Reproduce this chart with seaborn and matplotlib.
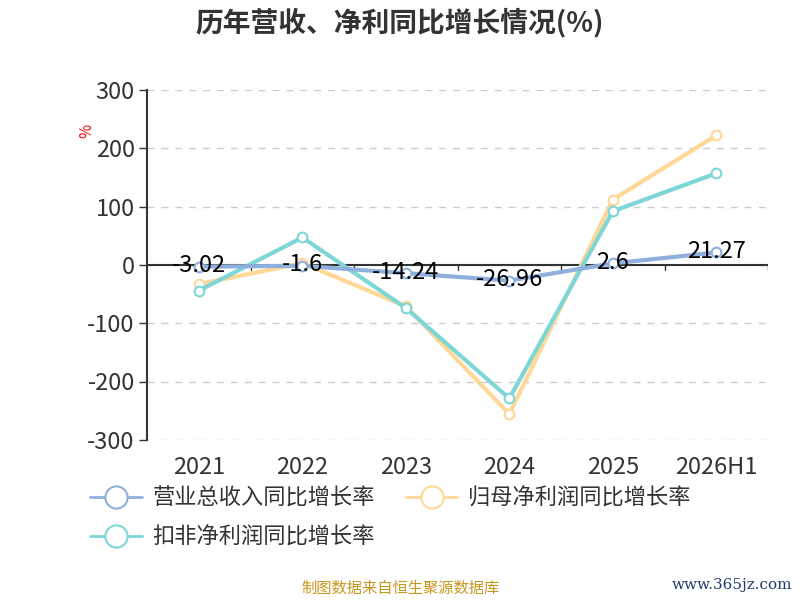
import pandas as pd
import matplotlib.pyplot as plt
import seaborn as sns

# -------------------------
# Data
# -------------------------
years = ["2021", "2022", "2023", "2024", "2025", "2026H1"]
revenue_yoy = [-3.02, -1.6, -14.24, -26.96, 2.6, 21.27]
parent_profit_yoy = [-33, 3, -71, -256, 112, 222]
deducted_profit_yoy = [-44, 47, -74, -229, 92, 157]

series_names = ["营业总收入同比增长率", "归母净利润同比增长率", "扣非净利润同比增长率"]
colors = ["#8fb0dd", "#ffd797", "#7fd6d6"]

df = pd.DataFrame({
    "year": years * 3,
    "value": revenue_yoy + parent_profit_yoy + deducted_profit_yoy,
    "series": [series_names[0]] * 6 + [series_names[1]] * 6 + [series_names[2]] * 6,
})
df["x"] = df["year"].map({y: i for i, y in enumerate(years)})

sns.set_theme(style="white")
plt.rcParams["font.family"] = ["Noto Sans CJK SC", "DejaVu Sans"]

fig = plt.figure(figsize=(8, 6), dpi=100)
ax = fig.add_axes([0.184, 0.267, 0.776, 0.583])

# draw revenue last so it sits on top like the reference
for name, color in zip([series_names[1], series_names[2], series_names[0]],
                       [colors[1], colors[2], colors[0]]):
    sub = df[df["series"] == name]
    sns.lineplot(data=sub, x="x", y="value", ax=ax, color=color, linewidth=3,
                 marker="o", markersize=7, markerfacecolor="white",
                 markeredgecolor=color, markeredgewidth=1.5, legend=False,
                 zorder=3 if name == series_names[0] else 2)

# data labels for revenue
for i, v in enumerate(revenue_yoy):
    ax.text(i, v + 2, f"{v:g}", ha="center", va="center", fontsize=17,
            color="black", zorder=5)

ax.set_xlim(-0.5, 5.5)
ax.set_ylim(-300, 300)
ax.set_yticks([-300, -200, -100, 0, 100, 200, 300])
ax.set_yticklabels(["-300", "-200", "-100", "0", "100", "200", "300"],
                   fontsize=17, color="#333333")
ax.yaxis.grid(True, linestyle=(0, (5, 5)), color="#cccccc", linewidth=1)
ax.set_axisbelow(True)

# x axis line at zero with ticks at band boundaries
ax.axhline(0, color="#333333", linewidth=1.5, zorder=1)
for b in range(1, 7):
    ax.plot([b - 0.5, b - 0.5], [0, -9], color="#333333", linewidth=1, zorder=1)
ax.set_xticks(range(6))
ax.set_xticklabels(years, fontsize=17, color="#333333")
ax.tick_params(axis="x", length=0, pad=12)
ax.tick_params(axis="y", length=6, width=1, color="#333333", left=True, pad=3)

for s in ["top", "right", "bottom"]:
    ax.spines[s].set_visible(False)
ax.spines["left"].set_color("#333333")
ax.spines["left"].set_linewidth(1.5)
ax.set_xlabel("")
ax.set_ylabel("")

# title and unit
fig.text(0.5, 0.962, "历年营收、净利同比增长情况(%)", ha="center", va="center",
         fontsize=20, fontweight="bold", color="#333333")
fig.text(0.108, 0.782, "%", ha="center", va="center", fontsize=11,
         color="red", rotation=90)

# legend, ordered so it fills row by row like the reference
handles = [plt.Line2D([0], [0], color=c, linewidth=2, marker="o", markersize=16,
                      markerfacecolor="white", markeredgecolor=c, markeredgewidth=1.5)
           for c in colors]
order = [0, 2, 1]
fig.legend([handles[i] for i in order], [series_names[i] for i in order],
           loc="upper left", bbox_to_anchor=(0.088, 0.222),
           ncol=2, frameon=False, fontsize=16, handlelength=2.3, handletextpad=0.5,
           columnspacing=1.4, labelspacing=0.7, labelcolor="#333333")

# footer
fig.text(0.5, 0.02, "制图数据来自恒生聚源数据库", ha="center", va="center",
         fontsize=11, color="#c8961e")
fig.text(0.99, 0.025, "www.365jz.com", ha="right", va="center", fontsize=11,
         color="#1f3a6e", family=["DejaVu Serif"])

fig.savefig("out.png", dpi=100)
plt.close(fig)
